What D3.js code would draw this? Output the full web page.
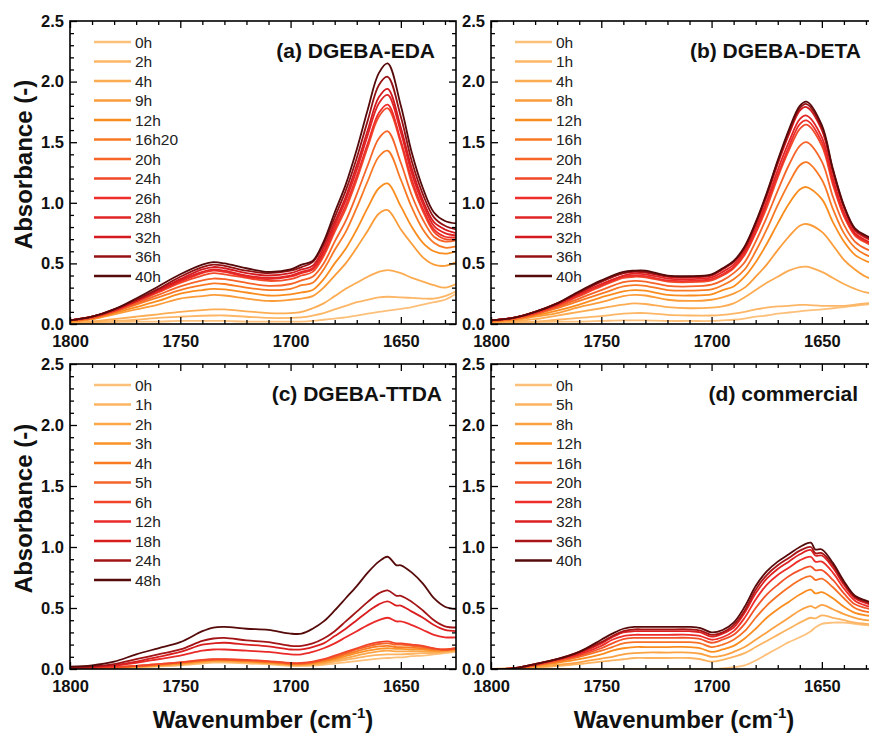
<!DOCTYPE html>
<html><head><meta charset="utf-8">
<script src="https://cdn.jsdelivr.net/npm/d3@7"></script>
<style>body{margin:0;background:#fff}svg{display:block;font-family:Arial,"Liberation Sans",sans-serif}</style>
</head><body>
<script>
// ---------- DATA ----------
const xMajorTicks = [1800, 1750, 1700, 1650];
const xMinorTicks = [1790,1780,1770,1760,1740,1730,1720,1710,1690,1680,1670,1660,1640,1630];
const yMajorTicks = [0, 0.5, 1.0, 1.5, 2.0, 2.5];
const yMinorTicks = [0.1,0.2,0.3,0.4,0.6,0.7,0.8,0.9,1.1,1.2,1.3,1.4,1.6,1.7,1.8,1.9,2.1,2.2,2.3,2.4];

// (a) DGEBA-EDA
const wnA = [1800,1790,1780,1770,1760,1750,1740,1735,1730,1720,1710,1700,1695,1690,1685,1680,1675,1670,1665,1660,1656,1650,1645,1640,1635,1630,1625];
const labelsA = ["0h","2h","4h","9h","12h","16h20","20h","24h","26h","28h","32h","36h","40h"];
const valuesA = [
 [.01,.01,.015,.02,.02,.025,.025,.025,.025,.02,.02,.02, .02,.025,.035,.045,.055,.07,.085,.10,.11,.125,.14,.16,.18,.20,.25],
 [.01,.015,.025,.035,.05,.06,.068,.07,.07,.06,.05,.05, .055,.07,.09,.12,.15,.18,.20,.22,.225,.22,.215,.21,.21,.23,.27],
 [.01,.02,.04,.06,.08,.10,.115,.12,.12,.105,.09,.09, .10,.13,.17,.23,.29,.34,.39,.43,.445,.42,.38,.35,.32,.30,.33],
 [.02,.04,.08,.12,.16,.21,.23,.24,.235,.21,.19,.20, .21,.23,.30,.40,.50,.63,.77,.91,.94,.78,.66,.55,.49,.48,.51],
 [.02,.04,.09,.14,.19,.25,.28,.29,.285,.26,.235,.245, .26,.28,.37,.50,.62,.78,.96,1.12,1.16,.97,.80,.67,.60,.58,.60],
 [.03,.05,.10,.16,.22,.28,.32,.335,.33,.30,.28,.29, .32,.34,.45,.61,.76,.96,1.18,1.38,1.43,1.19,.96,.78,.67,.63,.64],
 [.03,.05,.10,.17,.24,.31,.36,.375,.37,.34,.315,.33, .36,.39,.50,.68,.85,1.07,1.31,1.53,1.59,1.33,1.06,.86,.72,.68,.69],
 [.03,.05,.11,.18,.26,.34,.40,.42,.41,.38,.355,.37, .40,.43,.56,.76,.95,1.19,1.46,1.71,1.78,1.49,1.16,.93,.76,.70,.70],
 [.03,.06,.11,.19,.27,.35,.42,.44,.43,.39,.37,.39, .42,.45,.58,.78,.98,1.22,1.49,1.74,1.81,1.51,1.19,.95,.78,.72,.715],
 [.03,.06,.11,.19,.27,.36,.43,.45,.44,.40,.38,.40, .43,.46,.60,.81,1.02,1.27,1.56,1.82,1.89,1.58,1.24,.99,.81,.75,.73],
 [.03,.06,.12,.19,.28,.37,.45,.47,.46,.42,.40,.42, .45,.48,.63,.84,1.05,1.31,1.60,1.87,1.94,1.62,1.28,1.02,.84,.78,.75],
 [.03,.06,.12,.20,.29,.39,.47,.49,.48,.44,.42,.44, .47,.51,.66,.88,1.10,1.37,1.68,1.97,2.04,1.71,1.34,1.07,.88,.81,.78],
 [.03,.06,.12,.21,.31,.41,.49,.51,.50,.46,.43,.45, .49,.52,.68,.92,1.15,1.44,1.77,2.07,2.15,1.80,1.41,1.12,.92,.85,.83]
];

// (b) DGEBA-DETA
const wnB = [1800,1790,1780,1770,1760,1750,1740,1735,1730,1720,1710,1700,1695,1690,1685,1680,1675,1670,1665,1660,1657,1650,1645,1640,1635,1630,1625];
const labelsB = ["0h","1h","4h","8h","12h","16h","20h","24h","26h","28h","32h","36h","40h"];
const valuesB = [
 [.01,.01,.015,.02,.02,.025,.03,.03,.03,.025,.025,.025, .03,.035,.045,.06,.07,.085,.095,.105,.11,.12,.13,.14,.15,.16,.17],
 [.01,.015,.02,.035,.05,.065,.085,.09,.09,.075,.07,.07, .075,.085,.10,.12,.135,.145,.15,.157,.157,.15,.15,.15,.16,.17,.18],
 [.01,.02,.04,.07,.10,.13,.16,.17,.165,.14,.13,.135, .145,.17,.22,.28,.34,.39,.44,.47,.473,.43,.38,.33,.29,.26,.25],
 [.02,.03,.06,.09,.14,.18,.23,.24,.235,.20,.19,.20, .22,.25,.30,.39,.49,.61,.72,.81,.825,.76,.65,.53,.45,.39,.36],
 [.02,.04,.07,.11,.16,.22,.27,.28,.275,.24,.235,.245, .28,.31,.39,.51,.66,.83,.99,1.11,1.13,1.03,.84,.68,.57,.52,.49],
 [.02,.04,.08,.13,.19,.25,.31,.32,.315,.28,.275,.285, .32,.37,.45,.60,.78,.98,1.16,1.31,1.335,1.19,.95,.75,.63,.57,.54],
 [.03,.04,.08,.14,.21,.28,.345,.355,.35,.315,.31,.325, .36,.42,.51,.68,.88,1.10,1.31,1.47,1.50,1.34,1.05,.82,.68,.62,.59],
 [.03,.05,.09,.15,.23,.31,.38,.39,.385,.35,.345,.36, .40,.46,.57,.75,.96,1.21,1.43,1.61,1.645,1.47,1.15,.89,.73,.67,.63],
 [.03,.05,.09,.16,.24,.32,.39,.40,.395,.36,.355,.37, .41,.47,.58,.76,.99,1.23,1.46,1.65,1.68,1.50,1.17,.90,.74,.68,.64],
 [.03,.05,.10,.16,.25,.33,.40,.415,.41,.375,.37,.385, .43,.49,.60,.79,1.01,1.27,1.50,1.69,1.72,1.54,1.20,.92,.75,.69,.65],
 [.03,.05,.10,.17,.26,.35,.42,.43,.425,.39,.385,.40, .45,.51,.62,.82,1.05,1.32,1.56,1.76,1.79,1.60,1.25,.96,.77,.71,.67],
 [.03,.05,.10,.17,.26,.35,.42,.435,.43,.395,.39,.405, .455,.515,.63,.83,1.07,1.34,1.58,1.78,1.815,1.62,1.27,.97,.78,.72,.68],
 [.03,.05,.10,.17,.27,.36,.43,.44,.44,.40,.395,.41, .46,.52,.64,.84,1.08,1.35,1.60,1.80,1.835,1.64,1.28,.98,.79,.73,.69]
];

// (c) DGEBA-TTDA
const wnC = [1800,1790,1780,1770,1760,1750,1740,1735,1730,1720,1710,1700,1695,1690,1685,1680,1675,1670,1665,1660,1656,1652,1650,1645,1640,1635,1630,1625];
const labelsC = ["0h","1h","2h","3h","4h","5h","6h","12h","18h","24h","48h"];
const valuesC = [
 [.005,.005,.008,.012,.02,.03, .045,.052,.052,.046,.038,.025, .025,.028,.035,.045,.055,.065, .075,.085,.09,.095,.095, .105,.11,.12,.13,.14],
 [.005,.008,.01,.015,.025,.035, .052,.06,.06,.053,.044,.03, .03,.035,.045,.06,.075,.09, .105,.115,.12,.12,.12, .125,.13,.13,.14,.15],
 [.005,.008,.01,.018,.028,.04, .058,.065,.065,.058,.048,.034, .034,.04,.05,.07,.09,.11, .13,.145,.15,.145,.145, .145,.145,.14,.145,.155],
 [.005,.01,.012,.02,.03,.045, .063,.07,.07,.062,.052,.038, .038,.045,.06,.08,.105,.13, .15,.165,.17,.165,.165, .16,.16,.15,.15,.16],
 [.005,.01,.015,.025,.035,.05, .068,.074,.074,.066,.056,.042, .042,.05,.068,.09,.12,.145, .17,.185,.19,.18,.18, .175,.17,.16,.155,.165],
 [.005,.01,.015,.025,.04,.055, .072,.078,.078,.07,.06,.045, .045,.055,.075,.10,.13,.16, .185,.205,.21,.20,.20, .19,.18,.165,.16,.17],
 [.005,.01,.015,.025,.04,.055, .075,.08,.08,.075,.065,.05, .05,.06,.08,.11,.14,.17, .20,.22,.226,.21,.21, .20,.19,.17,.16,.17],
 [.01,.015,.025,.05,.08,.11, .15,.16,.16,.15,.14,.12, .12,.14,.17,.21,.26,.31, .36,.40,.42,.39,.39, .36,.32,.28,.26,.26],
 [.01,.02,.03,.06,.10,.14, .20,.21,.215,.20,.185,.16, .16,.18,.21,.27,.33,.40, .47,.53,.555,.52,.52, .47,.42,.36,.32,.31],
 [.01,.02,.04,.08,.12,.16, .23,.25,.255,.235,.22,.19, .19,.21,.25,.31,.39,.47, .55,.62,.645,.60,.60, .55,.48,.40,.35,.34],
 [.02,.03,.06,.12,.17,.22, .31,.34,.345,.33,.32,.29, .29,.33,.39,.48,.58,.68, .79,.88,.92,.85,.85, .79,.70,.58,.51,.49]
];

// (d) commercial
const wnD = [1800,1790,1780,1770,1760,1750,1745,1740,1735,1730,1720,1710,1705,1700,1695,1690,1685,1680,1675,1670,1665,1660,1655,1653,1650,1645,1640,1635,1630,1625];
const labelsD = ["0h","5h","8h","12h","16h","20h","28h","32h","36h","40h"];
const valuesD = [
 [.00,.00,.00,.00,.00,.00, .00,.00,.00,.00,.00,.00, .00,.00,.005,.015,.03,.07, .12,.17,.22,.26,.31,.34, .37,.38,.38,.37,.36,.355],
 [.00,.005,.012,.025,.04,.06, .07,.08,.09,.09,.09,.09, .08,.06,.075,.10,.13,.18, .23,.28,.33,.38,.42,.415, .44,.42,.40,.38,.37,.36],
 [.00,.005,.018,.035,.055,.085, .10,.12,.13,.135,.135,.135, .125,.10,.11,.14,.18,.24, .30,.36,.42,.48,.515,.50, .525,.49,.45,.42,.40,.40],
 [.00,.005,.025,.05,.08,.12, .15,.17,.18,.18,.18,.18, .17,.14,.16,.19,.25,.33, .42,.49,.55,.61,.65,.62, .63,.58,.51,.46,.44,.43],
 [.00,.005,.03,.06,.10,.15, .18,.21,.22,.22,.22,.22, .21,.18,.20,.24,.31,.42, .52,.60,.67,.73,.76,.73, .74,.67,.58,.50,.47,.46],
 [.00,.005,.03,.07,.11,.17, .21,.245,.255,.255,.255,.255, .245,.215,.24,.28,.37,.50, .61,.69,.76,.81,.84,.81, .81,.73,.62,.53,.50,.48],
 [.00,.005,.035,.075,.12,.19, .24,.27,.28,.28,.28,.28, .27,.24,.26,.31,.42,.57, .69,.77,.83,.89,.92,.88, .88,.79,.66,.56,.52,.50],
 [.00,.005,.04,.08,.13,.21, .26,.30,.31,.31,.31,.31, .30,.265,.29,.34,.46,.62, .74,.82,.88,.94,.975,.93, .93,.83,.69,.58,.54,.51],
 [.00,.005,.04,.08,.14,.22, .27,.31,.325,.325,.325,.325, .315,.28,.30,.36,.48,.65, .77,.85,.91,.97,1.00,.95, .95,.85,.70,.59,.55,.52],
 [.00,.005,.04,.08,.14,.24, .29,.33,.345,.345,.345,.345, .335,.30,.32,.38,.51,.68, .80,.88,.94,1.00,1.035,.98, .98,.87,.72,.60,.56,.53]
];

const titles = ["(a) DGEBA-EDA", "(b) DGEBA-DETA", "(c) DGEBA-TTDA", "(d) commercial"];

// ---------- LAYOUT / STYLE ----------
const W = 869, H = 733;
const layout = [
  {x0:70,  x1:456, y0:21,  y1:324, labelX:435, yTitle:true,  xTitle:false},
  {x0:491, x1:877, y0:21,  y1:324, labelX:861, yTitle:false, xTitle:false},
  {x0:70,  x1:456, y0:364, y1:669, labelX:442, yTitle:true,  xTitle:true},
  {x0:491, x1:877, y0:364, y1:669, labelX:858, yTitle:false, xTitle:true}
];
const colorStops = ["#FDC07A","#FCAC52","#FA8C1E","#F66428","#EE2E2A","#D41A1E","#560A0A"];
const colorInterp = d3.piecewise(d3.interpolateRgb, colorStops);

const svg = d3.select("body").append("svg").attr("width", W).attr("height", H);

const panels = [
  [wnA, labelsA, valuesA],
  [wnB, labelsB, valuesB],
  [wnC, labelsC, valuesC],
  [wnD, labelsD, valuesD]
];

panels.forEach(([wn, labels, values], pi) => {
  const L = layout[pi];
  const x = d3.scaleLinear().domain([1800, 1625]).range([L.x0, L.x1]);
  const y = d3.scaleLinear().domain([0, 2.5]).range([L.y1, L.y0]);
  const g = svg.append("g");
  const clipId = "clip" + pi;
  svg.append("clipPath").attr("id", clipId).append("rect")
    .attr("x", L.x0).attr("y", L.y0).attr("width", L.x1 - L.x0).attr("height", L.y1 - L.y0);

  const n = labels.length;
  const color = i => colorInterp(i / (n - 1));
  const line = d3.line().x((d, i) => x(wn[i])).y(d => y(d)).curve(d3.curveCatmullRom.alpha(0.5));

  const lg = g.append("g").attr("clip-path", `url(#${clipId})`);
  values.forEach((vals, i) => {
    lg.append("path").attr("d", line(vals)).attr("fill", "none")
      .attr("stroke", color(i)).attr("stroke-width", 1.8).attr("stroke-linejoin", "round");
  });

  // axes
  const styleAxis = sel => {
    sel.select(".domain").remove();
    sel.selectAll("line").attr("stroke", "#000").attr("stroke-width", 1.3);
    sel.selectAll("text").attr("font-size", 16.5).attr("font-weight", "bold").attr("fill", "#111")
      .attr("font-family", 'Arial,"Liberation Sans",sans-serif');
  };
  g.append("g").attr("transform", `translate(0,${L.y1})`)
    .call(d3.axisBottom(x).tickValues(xMajorTicks).tickSizeInner(-7).tickSizeOuter(0).tickPadding(11).tickFormat(d3.format("d"))).call(styleAxis);
  g.append("g").attr("transform", `translate(0,${L.y1})`)
    .call(d3.axisBottom(x).tickValues(xMinorTicks).tickSizeInner(-4).tickSizeOuter(0).tickFormat("")).call(styleAxis);
  g.append("g").attr("transform", `translate(0,${L.y0})`)
    .call(d3.axisTop(x).tickValues(xMajorTicks).tickSizeInner(-7).tickSizeOuter(0).tickFormat("")).call(styleAxis);
  g.append("g").attr("transform", `translate(0,${L.y0})`)
    .call(d3.axisTop(x).tickValues(xMinorTicks).tickSizeInner(-4).tickSizeOuter(0).tickFormat("")).call(styleAxis);
  g.append("g").attr("transform", `translate(${L.x0},0)`)
    .call(d3.axisLeft(y).tickValues(yMajorTicks).tickSizeInner(-7).tickSizeOuter(0).tickPadding(6).tickFormat(d3.format(".1f"))).call(styleAxis);
  g.append("g").attr("transform", `translate(${L.x0},0)`)
    .call(d3.axisLeft(y).tickValues(yMinorTicks).tickSizeInner(-4).tickSizeOuter(0).tickFormat("")).call(styleAxis);
  g.append("g").attr("transform", `translate(${L.x1},0)`)
    .call(d3.axisRight(y).tickValues(yMajorTicks).tickSizeInner(-7).tickSizeOuter(0).tickFormat("")).call(styleAxis);
  g.append("g").attr("transform", `translate(${L.x1},0)`)
    .call(d3.axisRight(y).tickValues(yMinorTicks).tickSizeInner(-4).tickSizeOuter(0).tickFormat("")).call(styleAxis);

  g.append("rect").attr("x", L.x0).attr("y", L.y0).attr("width", L.x1 - L.x0).attr("height", L.y1 - L.y0)
    .attr("fill", "none").attr("stroke", "#000").attr("stroke-width", 1.6);

  // legend
  labels.forEach((lab, i) => {
    const ry = L.y0 + 21 + i * 19.5;
    g.append("line").attr("x1", L.x0 + 24).attr("x2", L.x0 + 61).attr("y1", ry).attr("y2", ry)
      .attr("stroke", color(i)).attr("stroke-width", 2.5);
    g.append("text").attr("x", L.x0 + 65).attr("y", ry + 5.5).attr("font-size", 15.5).attr("fill", "#222").text(lab);
  });

  // panel label
  g.append("text").attr("x", L.labelX).attr("y", L.y0 + 36.5).attr("text-anchor", "end")
    .attr("font-size", 21).attr("font-weight", "bold").attr("fill", "#111").text(titles[pi]);

  if (L.yTitle) {
    const cy = (L.y0 + L.y1) / 2 - 8;
    g.append("text").attr("transform", `translate(23,${cy}) rotate(-90)`)
      .attr("text-anchor", "middle").attr("dominant-baseline", "central")
      .attr("font-size", 24).attr("font-weight", "bold").attr("fill", "#111").text("Absorbance (-)");
  }
  if (L.xTitle) {
    const t = g.append("text").attr("x", (L.x0 + L.x1) / 2).attr("y", 728).attr("text-anchor", "middle")
      .attr("font-size", 24).attr("font-weight", "bold").attr("fill", "#111");
    t.append("tspan").text("Wavenumber (cm");
    t.append("tspan").attr("font-size", 15).attr("dy", -10).text("-1");
    t.append("tspan").attr("dy", 10).text(")");
  }
});
</script>
</body></html>
